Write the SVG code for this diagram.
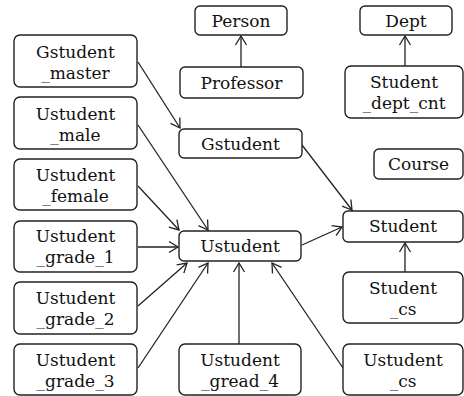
<svg xmlns="http://www.w3.org/2000/svg" width="464" height="396" viewBox="0 0 464 396">
<style>
.box{fill:#fff;stroke:#222;stroke-width:1.4}
.t{font-family:"DejaVu Serif",serif;font-size:17px;fill:#111;text-anchor:middle}
.c line{stroke:#222;stroke-width:1.3;marker-end:url(#arr)}
</style>
<defs>
<marker id="arr" markerUnits="userSpaceOnUse" markerWidth="14" markerHeight="14" refX="0" refY="0" viewBox="-11 -7 14 14" orient="auto">
<path d="M-9,-5.5 L0,0 L-9,5.5" fill="none" stroke="#222" stroke-width="1.3"/>
</marker>
</defs>
<rect width="464" height="396" fill="#fff"/>
<g class="c">
<line x1="241" y1="67" x2="241" y2="36"/>
<line x1="405" y1="66" x2="405" y2="36"/>
<line x1="138" y1="62" x2="180" y2="128"/>
<line x1="302" y1="145" x2="352" y2="210"/>
<line x1="138" y1="125" x2="208" y2="230"/>
<line x1="138" y1="186" x2="179" y2="230"/>
<line x1="138" y1="247" x2="178" y2="247"/>
<line x1="138" y1="306" x2="187" y2="263"/>
<line x1="138" y1="368" x2="208" y2="263"/>
<line x1="239" y1="344" x2="239" y2="263"/>
<line x1="343" y1="368" x2="272" y2="263"/>
<line x1="302" y1="245" x2="342" y2="227"/>
<line x1="405" y1="272" x2="405" y2="243"/>
</g>
<g id="person"><rect class="box" x="195" y="6" width="92" height="29" rx="5"/><text class="t" x="241" y="27">Person</text></g>
<g id="professor"><rect class="box" x="180" y="67" width="123" height="31" rx="5"/><text class="t" x="241.5" y="89">Professor</text></g>
<g id="dept"><rect class="box" x="360" y="6" width="92" height="29" rx="5"/><text class="t" x="406" y="27">Dept</text></g>
<g id="student_dept_cnt"><rect class="box" x="345" y="66" width="118" height="52" rx="6"/><text class="t" x="404" y="88">Student</text><text class="t" x="404" y="109">_dept_cnt</text></g>
<g id="gstudent_master"><rect class="box" x="14" y="35" width="123" height="52" rx="6"/><text class="t" x="75.5" y="58">Gstudent</text><text class="t" x="75.5" y="79">_master</text></g>
<g id="gstudent"><rect class="box" x="179" y="129" width="123" height="29" rx="5"/><text class="t" x="240.5" y="150">Gstudent</text></g>
<g id="course"><rect class="box" x="374" y="149" width="89" height="30" rx="5"/><text class="t" x="418.5" y="170">Course</text></g>
<g id="ustudent_male"><rect class="box" x="14" y="97" width="123" height="52" rx="6"/><text class="t" x="75.5" y="120">Ustudent</text><text class="t" x="75.5" y="141">_male</text></g>
<g id="ustudent_female"><rect class="box" x="14" y="159" width="123" height="51" rx="6"/><text class="t" x="75.5" y="181">Ustudent</text><text class="t" x="75.5" y="202">_female</text></g>
<g id="ustudent_grade_1"><rect class="box" x="14" y="221" width="123" height="51" rx="6"/><text class="t" x="75.5" y="242">Ustudent</text><text class="t" x="75.5" y="263">_grade_1</text></g>
<g id="ustudent_grade_2"><rect class="box" x="14" y="282" width="123" height="52" rx="6"/><text class="t" x="75.5" y="304">Ustudent</text><text class="t" x="75.5" y="325">_grade_2</text></g>
<g id="ustudent_grade_3"><rect class="box" x="14" y="344" width="123" height="51" rx="6"/><text class="t" x="75.5" y="366">Ustudent</text><text class="t" x="75.5" y="387">_grade_3</text></g>
<g id="ustudent"><rect class="box" x="179" y="231" width="122" height="30" rx="5"/><text class="t" x="240" y="252">Ustudent</text></g>
<g id="student"><rect class="box" x="343" y="211" width="120" height="31" rx="5"/><text class="t" x="403" y="232">Student</text></g>
<g id="student_cs"><rect class="box" x="343" y="272" width="120" height="51" rx="6"/><text class="t" x="403" y="294">Student</text><text class="t" x="403" y="315">_cs</text></g>
<g id="ustudent_gread_4"><rect class="box" x="179" y="344" width="122" height="51" rx="6"/><text class="t" x="240" y="366">Ustudent</text><text class="t" x="240" y="387">_gread_4</text></g>
<g id="ustudent_cs"><rect class="box" x="343" y="344" width="120" height="51" rx="6"/><text class="t" x="403" y="366">Ustudent</text><text class="t" x="403" y="387">_cs</text></g>
</svg>
